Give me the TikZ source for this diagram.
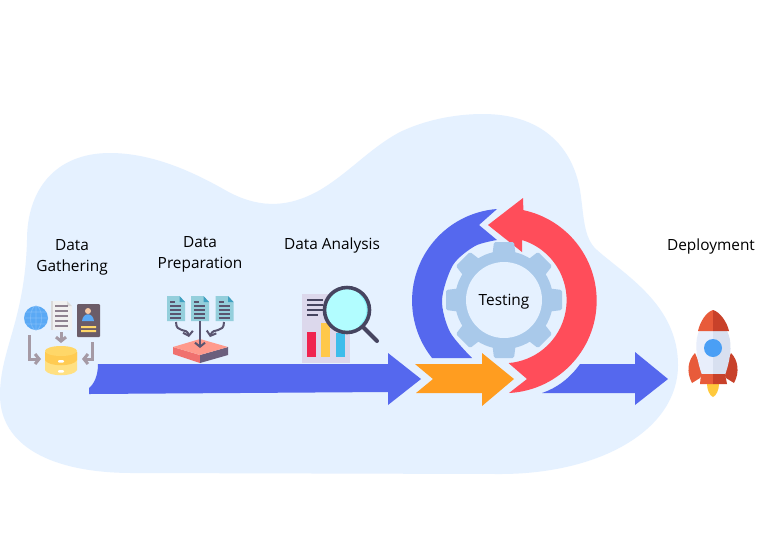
\documentclass[tikz,border=0pt]{standalone}
\usepackage{fontspec}
\setmainfont{Open Sans}
\usetikzlibrary{arrows.meta}
\definecolor{blob}{HTML}{E5F1FF}
\definecolor{flowblue}{HTML}{5568EE}
\definecolor{flowred}{HTML}{FF4D5A}
\definecolor{floworange}{HTML}{FF9D20}
\definecolor{gearblue}{HTML}{A9C9EA}
\definecolor{greyarrow}{HTML}{A59AA5}
\definecolor{inkdark}{HTML}{5A5570}
\definecolor{docteal}{HTML}{94CFDC}
\tikzset{
  hex/.code={\definecolor{tmpc}{HTML}{#1}\pgfkeysalso{color=tmpc}},
  caption/.style={font=\fontsize{15.4}{21}\selectfont,align=center,text=black,inner sep=0pt},
  greyline/.style={draw=greyarrow,line width=3pt,-{Straight Barb[length=4pt,width=10pt,line width=3pt]}},
  inkline/.style={draw=inkdark,line width=2pt,-{Straight Barb[length=4pt,width=10pt,line width=2pt]}},
  docline/.style={draw=inkdark,line width=1.2pt},
}
\begin{document}
\begin{tikzpicture}[x=1pt,y=-1pt]
\useasboundingbox (0,0) rectangle (767,550);
\fill[white] (0,0) rectangle (767,550);
% background blob
\fill[blob] (27,240) .. controls (27,190) and (55,153) .. (110,153)
  .. controls (150,153) and (190,170) .. (225,190)
  .. controls (255,207) and (285,210) .. (320,190)
  .. controls (350,172) and (370,148) .. (400,132)
  .. controls (425,120) and (455,114) .. (483,114)
  .. controls (540,114) and (572,145) .. (580,190)
  .. controls (584,215) and (583,238) .. (597,250)
  .. controls (625,275) and (678,305) .. (678,365)
  .. controls (678,430) and (600,474) .. (500,474)
  -- (133,473)
  .. controls (50,473) and (0,445) .. (0,395)
  .. controls (0,350) and (25,320) .. (27,240) -- cycle;
% main flow arrows
\fill[flowblue] (98,364) -- (388,364) -- (388,353) -- (421,379) -- (388,405) -- (388,392) -- (89,394) -- (89,388)
  .. controls (94,384) and (98,376) .. (98,364) -- cycle;
\fill[floworange] (415,364) -- (482,364) -- (482,353) -- (514,379) -- (482,406) -- (482,393) -- (416,393) -- (433,379) -- cycle;
\fill[flowblue] (580,364) -- (635,364) -- (635,352) -- (668,379) -- (635,405) -- (635,393) -- (542,393)
  .. controls (557,388) and (570,378) .. (580,364) -- cycle;
% cycle arrows
\fill[flowblue] (497,209) arc[start angle=265.6,end angle=141.5,radius=92] -- (472,358)
  -- plot[smooth] coordinates {(472,358) (450,332) (442,300) (453,265) (475,246) (497,240)} -- (479,225) -- cycle;
\fill[flowred] (509,393) arc[start angle=87,end angle=-78,radius=92.5] -- (523,198) -- (488,225) -- (522,252) -- (522,240)
  arc[start angle=-73,end angle=85.5,radius=63] -- (527,379) -- cycle;
% gear
\begin{scope}[shift={(504,300)}]
  \foreach \a in {0,45,...,315}{
    \fill[gearblue,rotate=\a,rounded corners=1.5pt] (-10,-58) -- (10,-58) -- (12,-42) -- (-12,-42) -- cycle;
  }
  \fill[gearblue] (0,0) circle[radius=49];
  \fill[blob] (0,0) circle[radius=38];
\end{scope}
% data gathering icon
\fill[hex=5AA9F5] (36,318) circle[radius=12];
\draw[hex=7DBBF8,line width=0.7pt] (36,318) ellipse[x radius=5.5,y radius=12] (24,318) -- (48,318) (26,312) -- (46,312) (26,324) -- (46,324) (36,306) -- (36,330);
\fill[hex=F0F0F0] (51,301) -- (67,301) -- (72,306) -- (72,330) -- (51,330) -- cycle;
\fill[hex=DADADA] (51,301) rectangle (53,330);
\fill[hex=DADADA] (67,301) -- (72,306) -- (67,306) -- cycle;
\foreach \y in {306,311,316,321,326}{\draw[hex=8F8290,line width=1.2pt] (55,\y) -- (68,\y);}
\fill[hex=6B5C68,rounded corners=1pt] (77,304) rectangle (100,337);
\fill[hex=F5C9A5] (88,311) circle[radius=3];
\fill[hex=5AA9F5] (82,321) .. controls (83,312) and (93,312) .. (94,321) -- cycle;
\fill[hex=FFD768] (81,326) rectangle (96,328) (81,330) rectangle (96,332);
\draw[greyline] (61,332) -- (61,343);
\draw[greyline] (29,335) -- (29,359) -- (41,359);
\draw[greyline] (92,342) -- (92,359) -- (82,359);
\fill[hex=FFE082] (45,352) -- (45,370) .. controls (48,377) and (74,377) .. (77,370) -- (77,352) -- cycle;
\fill[hex=FFCB52] (45,352) -- (45,360) .. controls (48,367) and (74,367) .. (77,360) -- (77,352) -- cycle;
\fill[hex=FFD768] (61,351) ellipse[x radius=16,y radius=5];
\fill[white,rounded corners=1pt] (58,360) rectangle (64,362.5) (58,370) rectangle (64,372.5);
% data preparation icon
\foreach \x in {167,191,215.5}{
  \fill[docteal] (\x,296) -- (\x+12.5,296) -- (\x+18,302) -- (\x+18,321) -- (\x,321) -- cycle;
  \fill[hex=3F9FC0] (\x+12.5,296) -- (\x+18,302) -- (\x+12.5,302) -- cycle;
  \draw[docline] (\x+3,302) -- (\x+8,302) (\x+3,306) -- (\x+14,306) (\x+3,310) -- (\x+14,310) (\x+3,314) -- (\x+14,314) (\x+3,318) -- (\x+14,318);
}
\fill[hex=F0716F] (173,347) -- (200,355) -- (200,363) -- (173,354) -- cycle;
\fill[hex=6B5F7D] (228,347) -- (200,355) -- (200,363) -- (228,355) -- cycle;
\fill[hex=FF9A8C] (173,347) -- (200,339) -- (228,347) -- (200,355) -- cycle;
\draw[inkline] (200,321) -- (200,348);
\draw[inkline] (176,322) .. controls (176,334) and (187,327) .. (189,337);
\draw[inkline] (224,322) .. controls (224,334) and (213,327) .. (210,337);
% data analysis icon
\fill[hex=DCD8EC] (302,294) rectangle (350,363);
\foreach \y/\e in {300/323,305/323,310/323,315/318}{\draw[hex=464560,line width=1.2pt] (307,\y) -- (\e,\y);}
\fill[hex=F0244F] (307,332) rectangle (316,357);
\fill[hex=FFC84A] (321,323) rectangle (330,357);
\fill[hex=3FBDEB] (336,333) rectangle (345,357);
\draw[hex=464560,line width=4pt,line cap=round] (363,327) -- (377,341);
\fill[hex=B2FDFF] (347,310) circle[radius=22];
\draw[hex=8CF4FA,line width=2pt] (347,310) ++(-50:20.5) arc[start angle=-50,end angle=50,radius=20.5];
\draw[hex=464560,line width=3.6pt] (347,310) circle[radius=22.5];
% rocket
\fill[hex=E85B3A] (692,383) .. controls (686,372) and (688,360) .. (695,353) -- (703,372) -- (700,378) -- cycle;
\fill[hex=C8412A] (734,383) .. controls (740,372) and (738,360) .. (731,353) -- (723,372) -- (726,378) -- cycle;
\fill[hex=FFC93C] (707,384) -- (719,384) .. controls (719,390) and (716,396) .. (713,397) .. controls (710,396) and (707,390) .. (707,384) -- cycle;
\fill[hex=E8EEFB] (713,330) -- (699,331) .. controls (695,340) and (695,355) .. (702,375) -- (713,375) -- cycle;
\fill[hex=D8E0F0] (713,330) -- (727,331) .. controls (732,340) and (732,355) .. (725,375) -- (713,375) -- cycle;
\fill[hex=E85B3A] (713,310) .. controls (706,312) and (700,322) .. (698,331) -- (713,331) -- cycle;
\fill[hex=C8412A] (713,310) .. controls (720,312) and (727,322) .. (729,331) -- (713,331) -- cycle;
\fill[hex=E85B3A] (701,374) -- (713,374) -- (713,384) -- (700,384) -- cycle;
\fill[hex=C8412A] (725,374) -- (713,374) -- (713,384) -- (727,384) -- cycle;
\fill[hex=4A9FF5] (713,348) circle[radius=9];
% labels
\node[caption] (gathering) at (72,257) {Data\\Gathering};
\node[caption] (preparation) at (200,254) {Data\\Preparation};
\node[caption] (analysis) at (332,245.5) {Data Analysis};
\node[caption] (testing) at (504,302) {Testing};
\node[caption] (deployment) at (711,246.5) {Deployment};
\end{tikzpicture}
\end{document}
